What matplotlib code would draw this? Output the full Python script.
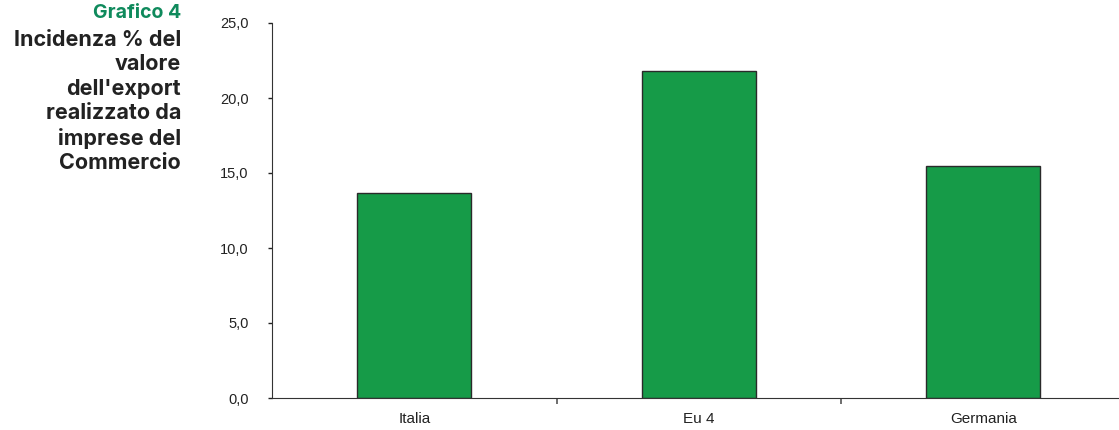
import matplotlib
matplotlib.use("Agg")
import matplotlib.pyplot as plt
from matplotlib.ticker import FuncFormatter

# ── data ──────────────────────────────────────────────────────────────────────
categories = ["Italia", "Eu 4", "Germania"]
values     = [13.7, 21.8, 15.5]
y_ticks    = [0, 5, 10, 15, 20, 25]

BAR_COL   = "#169b48"
TITLE_COL = "#0f8a5c"
TEXT_COL  = "#222222"

plt.rcParams["font.family"] = ["Liberation Sans", "DejaVu Sans"]

fig = plt.figure(figsize=(11.19, 4.30), dpi=100)
ax = fig.add_axes([272 / 1119, 32 / 430, 853.5 / 1119, 375 / 430])

x = range(len(categories))
ax.bar(x, values, width=0.4, color=BAR_COL, edgecolor="#2a2a2a", linewidth=1.0, zorder=2)

ax.set_xlim(-0.5, 2.5)
ax.set_ylim(0, 25)
ax.set_yticks(y_ticks)
ax.yaxis.set_major_formatter(FuncFormatter(lambda v, p: f"{v:.1f}".replace(".", ",")))
ax.set_xticks(list(x))
ax.set_xticklabels(categories)
ax.tick_params(axis="x", length=0, pad=10, labelsize=11, colors=TEXT_COL)
ax.set_xticks([0.5, 1.5], minor=True)
ax.tick_params(axis="x", which="minor", length=4, width=1.2, color="#555555", direction="out")
ax.tick_params(axis="y", length=3, width=1, pad=14, labelsize=10.5, colors=TEXT_COL)
for s in ["top", "right"]:
    ax.spines[s].set_visible(False)
ax.spines["left"].set_color("#333333")
ax.spines["bottom"].set_color("#333333")

# title block on the left
TITLE_FONT = ["Inter", "DejaVu Sans"]
fig.text(181 / 1119, 1 - 13 / 430, "Grafico 4", ha="right", va="center",
         fontsize=14, fontweight="bold", color=TITLE_COL, family=TITLE_FONT)
fig.text(181 / 1119, 1 - 30 / 430,
         "Incidenza % del\nvalore\ndell'export\nrealizzato da\nimprese del\nCommercio",
         ha="right", va="top", fontsize=15.5, fontweight="bold", color=TEXT_COL,
         linespacing=1.27, family=TITLE_FONT)

fig.savefig("out.png", dpi=100)
